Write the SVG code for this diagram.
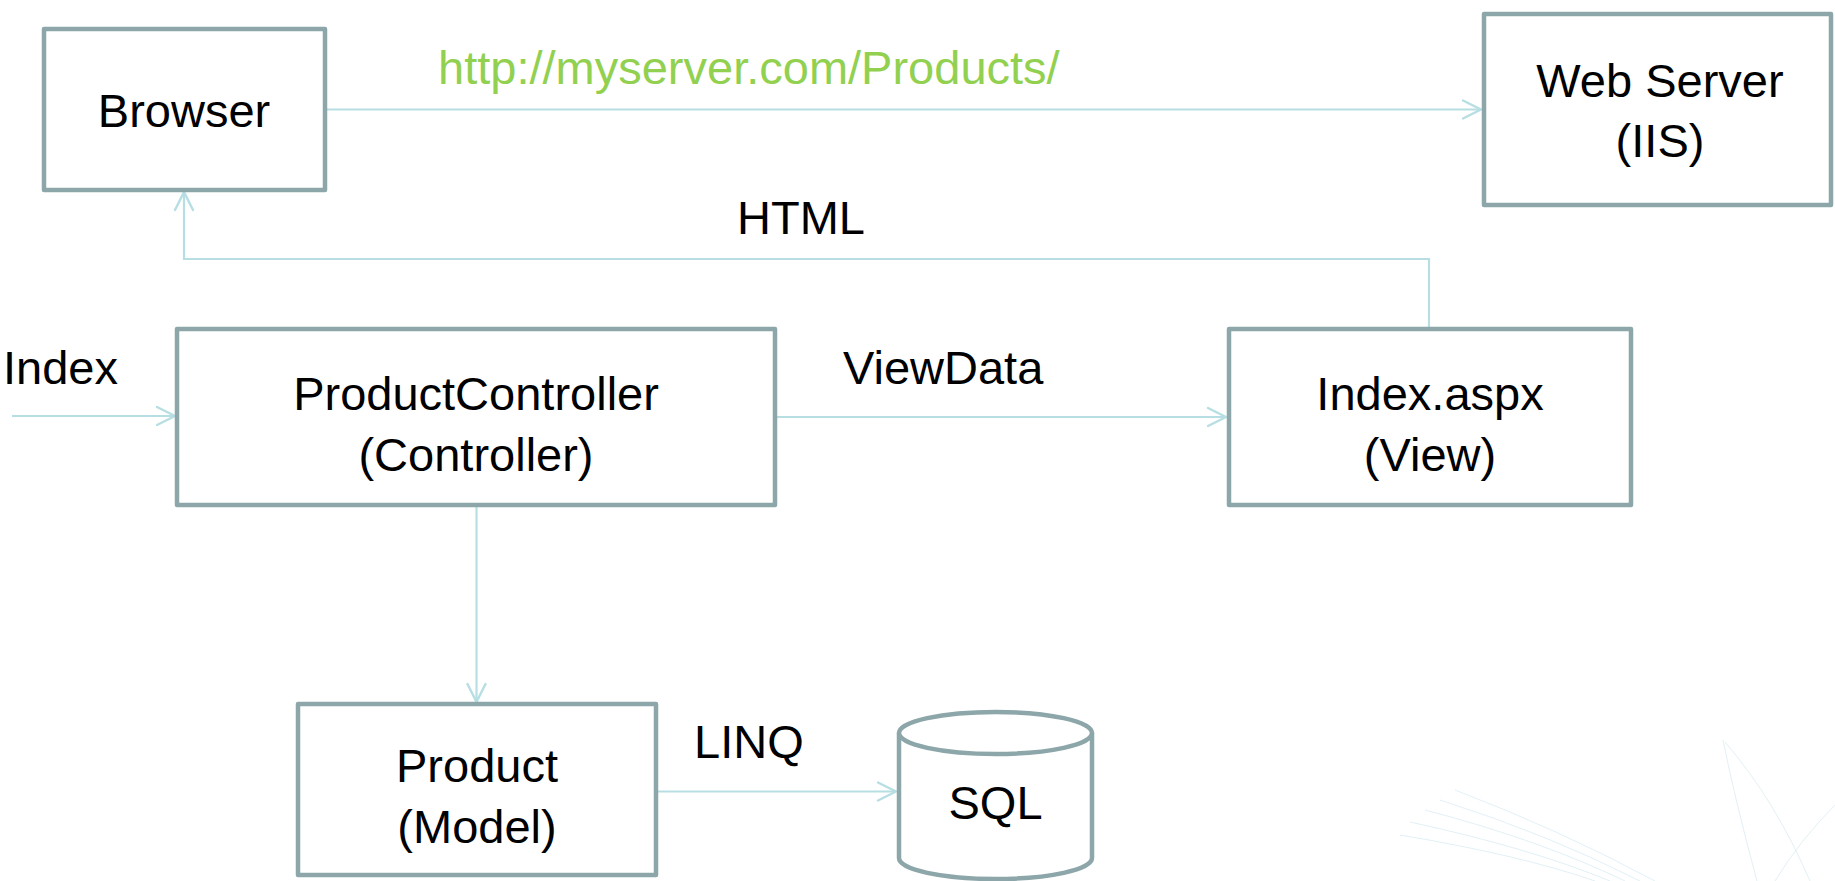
<svg xmlns="http://www.w3.org/2000/svg" width="1835" height="881" viewBox="0 0 1835 881">
<style>
.box{fill:#ffffff;stroke:#8ca6a9;stroke-width:4.5;stroke-linejoin:round}
.lbl{font-family:"Liberation Sans",Arial,sans-serif;font-size:47px;fill:#000000}
.mid{text-anchor:middle}
.url{fill:#92d050}
.conn{fill:none;stroke:#b7dfe3;stroke-width:2.2}
.deco{fill:none;stroke:#cfe6ee;stroke-width:1;opacity:0.6}
</style>
<defs>
<marker id="arr" markerUnits="userSpaceOnUse" viewBox="-21 -11 23 22" refX="0" refY="0" markerWidth="23" markerHeight="22" orient="auto">
<path d="M-18,-9 L0,0 L-18,9" fill="none" stroke="#b7dfe3" stroke-width="2.4" stroke-linecap="round" stroke-linejoin="round"/>
</marker>
</defs>
<rect width="1835" height="881" fill="#ffffff"/>
<g id="decoration">
<path class="deco" d="M1455 790 Q1560 830 1655 881"/>
<path class="deco" d="M1440 800 Q1550 835 1640 881"/>
<path class="deco" d="M1425 810 Q1540 840 1625 881"/>
<path class="deco" d="M1410 822 Q1530 848 1610 881"/>
<path class="deco" d="M1400 835 Q1520 855 1595 881"/>
<path class="deco" d="M1723 740 Q1735 800 1757 881"/>
<path class="deco" d="M1725 742 Q1775 800 1810 881"/>
<path class="deco" d="M1835 805 Q1800 840 1775 881"/>
</g>
<g id="connectors">
<path class="conn" d="M327 109.5 H1481" marker-end="url(#arr)"/>
<path class="conn" d="M1429 327 V259 H184 V192" marker-end="url(#arr)"/>
<path class="conn" d="M12 416 H175" marker-end="url(#arr)"/>
<path class="conn" d="M777 417 H1226" marker-end="url(#arr)"/>
<path class="conn" d="M476.5 507 V702" marker-end="url(#arr)"/>
<path class="conn" d="M658 791.5 H896" marker-end="url(#arr)"/>
</g>
<g id="connector-labels">
<text class="lbl url" x="438" y="84">http://myserver.com/Products/</text>
<text class="lbl" x="737" y="234">HTML</text>
<text class="lbl" x="3" y="384">Index</text>
<text class="lbl" x="843" y="384">ViewData</text>
<text class="lbl" x="694" y="758">LINQ</text>
</g>
<g id="browser">
<rect class="box" x="44" y="29" width="281" height="161"/>
<text class="lbl mid" x="184" y="127">Browser</text>
</g>
<g id="webserver">
<rect class="box" x="1484" y="14" width="347" height="191"/>
<text class="lbl mid" x="1660" y="97">Web Server</text>
<text class="lbl mid" x="1660" y="157">(IIS)</text>
</g>
<g id="productcontroller">
<rect class="box" x="177" y="329" width="598" height="176"/>
<text class="lbl mid" x="476" y="410">ProductController</text>
<text class="lbl mid" x="476" y="471">(Controller)</text>
</g>
<g id="indexaspx">
<rect class="box" x="1229" y="329" width="402" height="176"/>
<text class="lbl mid" x="1430" y="410">Index.aspx</text>
<text class="lbl mid" x="1430" y="471">(View)</text>
</g>
<g id="product">
<rect class="box" x="298" y="704" width="358" height="171"/>
<text class="lbl mid" x="477" y="782">Product</text>
<text class="lbl mid" x="477" y="843">(Model)</text>
</g>
<g id="sql">
<path class="box" d="M899 733 A96.5 21 0 0 1 1092 733 V858 A96.5 21 0 0 1 899 858 Z"/>
<path class="box" d="M899 733 A96.5 21 0 0 0 1092 733" fill="none"/>
<text class="lbl mid" x="995.5" y="819">SQL</text>
</g>
</svg>
